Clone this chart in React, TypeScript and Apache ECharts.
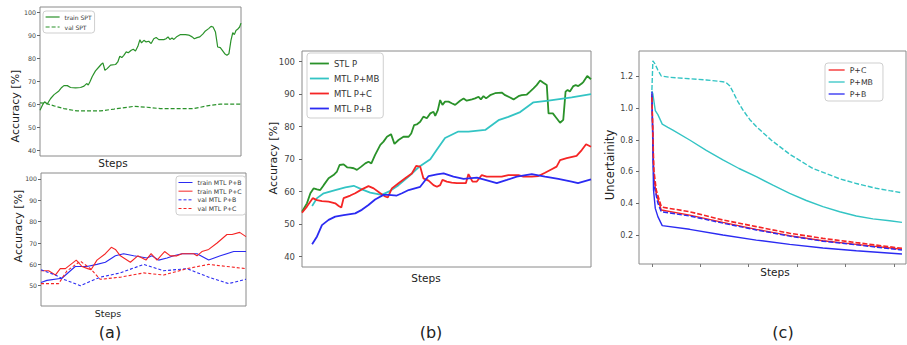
import React, { useEffect, useRef } from "react";
import * as echarts from "echarts";

// ---------- Data (steps, value) ----------
// (a) top: single-task training / validation accuracy
const trainSPT: [number, number][] = [[0,57.3],[1.2,59.5],[2.3,61],[3.6,60],[5.3,62.4],[7,64.1],[9.4,65.7],[10.8,67.2],[11.9,68],[13.6,68],[15.2,67.2],[17.7,67],[20.2,67.2],[21.9,67.8],[23.2,68.9],[24,68.3],[24.8,69.6],[26,72],[27.6,74.4],[29.3,76.1],[30.5,77.3],[31.3,77.9],[32.3,74.7],[33.4,75.4],[35.1,76.9],[37.6,77.2],[38.7,78.3],[39.7,80.8],[40.7,80.2],[41.7,81.2],[42.9,82.7],[43.9,82.3],[45.4,83.4],[46.4,83.8],[47.5,83.1],[48.7,85.1],[49.7,88],[50.5,86.6],[51.7,87.7],[52.8,87],[54.1,87.3],[55.3,86.3],[56.6,88.4],[57.8,88.9],[59.1,88],[61.6,88],[62.7,88.4],[63.7,89.2],[64.6,88.1],[65.7,88.7],[66.6,88.1],[68.2,89.4],[69.9,90.2],[72.4,90.2],[74,90],[75.7,89.2],[76.8,88.4],[78.1,88.9],[79.5,89.2],[81.1,90.5],[82.3,91.8],[83.9,92.8],[85.1,93.8],[86.1,93.5],[87.3,91.3],[88.4,84.8],[89.7,84.5],[90.9,83.1],[91.9,81.9],[93,81.2],[94,81.9],[95,87.7],[95.9,91],[96.7,90.2],[97.5,92],[98.3,92.5],[99.3,93.5],[100,95.2]];
const valSPT: [number, number][] = [[0,60.5],[2.8,60.3],[7,59.2],[11.9,58],[18.5,57],[30.1,57],[36.8,57.8],[46.7,59],[53.3,58.6],[59.9,58],[76.5,58],[83.1,59.2],[89.7,60],[100,60]];

// (a) bottom: multi-task training / validation accuracy
const trainMTLPB: [number, number][] = [[0,51.5],[2.9,52.5],[10.2,53.5],[16.7,59],[22.4,59],[27.3,60],[31.4,61],[36.3,64],[40.3,65],[45.2,64],[51.7,63],[54.1,64],[57.4,62],[61.5,63],[64.7,64],[68.8,65],[76.1,65],[81.8,62],[87.5,64],[94,66],[100,66]];
const trainMTLPC: [number, number][] = [[0,57],[3.7,57],[7,55],[9.4,58],[11.9,58],[17.2,62],[20,59],[22.8,58],[24.4,57.5],[27.3,62],[31.4,65],[34.3,68],[36.3,67],[38.7,64],[43.6,61],[47.2,64],[51.2,62],[53.7,65],[56.6,62],[60.3,66],[63.1,64],[66.3,64],[68.8,65],[74.5,65],[76.1,64],[78.5,66],[81.8,67],[85.9,70],[90.7,74],[93.2,74],[96.9,75],[100,73]];
const valMTLPB: [number, number][] = [[0,57.5],[7,55],[11.1,53],[19.2,50],[28.9,54],[38.7,56],[50.1,60],[59.8,57],[71.2,58],[81.8,54],[91.5,51],[100,53]];
const valMTLPC: [number, number][] = [[0,51],[8.6,51],[12.7,57],[19.2,61.5],[24.1,58],[28.9,53],[38.7,54],[50.1,56],[59.8,55],[71.2,58],[81.8,60],[90.7,59],[100,58]];

// (b) accuracy comparison
const stlP: [number, number][] = [[0,53.8],[1.7,56.4],[2.9,59.5],[4,61],[5.2,60.7],[6.3,60.5],[7.5,62],[9.2,64.1],[10.9,65.1],[12.1,66.2],[13,68.2],[14.4,68.4],[15.6,67.5],[16.7,67.4],[17.9,67.2],[19,66.7],[20.5,67.7],[21.9,68.7],[23,69.2],[24,68.7],[25.3,71.3],[27.1,74.4],[28.2,75.4],[29.4,76.9],[30.8,77.7],[32,74.7],[33.4,75.9],[35.1,76.9],[36.9,76.9],[37.8,77.9],[38.8,80.5],[39.7,80.7],[40.9,81.5],[42,83.1],[43.2,82.6],[44.4,84.1],[45.5,84.6],[46.1,83.3],[47,85.1],[47.8,88.2],[48.6,86.7],[49.5,87.7],[50.7,87.7],[51.8,87.2],[53,86.7],[54.7,88],[55.9,88.7],[57,88],[58.8,88.4],[59.9,88.7],[61.1,89.2],[61.9,88.4],[62.8,89.4],[63.7,88.7],[65.1,89.7],[66.8,90.3],[69.1,90.5],[70.3,89.7],[72,89],[73.2,88.4],[74.9,89.4],[76,89.7],[77.8,89.9],[78.9,90.8],[80.1,91.8],[81.2,92.8],[82.4,94.2],[83.5,93.5],[84.7,92.8],[85.3,84.1],[86.8,84.1],[88.1,82.6],[89.3,81.2],[90.4,82.1],[91.2,90.8],[91.9,91.3],[92.7,90.8],[93.9,92.5],[94.7,92.8],[95.6,92.5],[96.8,93.3],[97.4,93.8],[98.7,95.6],[100,94.6]];
const mtlPMB: [number, number][] = [[3.5,55.6],[5.2,58],[7.5,59.5],[11.5,60.5],[15,61.3],[17.9,61.8],[20.7,60.7],[23.6,59.7],[27.6,59],[30,60],[33.4,62],[37.4,65],[40.3,67.5],[44.4,70],[46.7,73],[49.5,76.5],[54.1,78.5],[57.6,78.5],[63.4,79],[68,82],[71.4,83],[75.5,84.5],[80.1,87.5],[85.3,88],[93.3,89],[100,90]];
const mtlPC: [number, number][] = [[0,53.5],[1.7,55.4],[3.7,58],[5.2,57.4],[6.9,57.1],[9.2,56.9],[11.5,56.4],[12.7,55.6],[13.6,55.1],[14.4,58],[16.7,58.8],[18.4,59.5],[20.7,60.7],[23,61.7],[24.8,61],[27.1,59.5],[28.8,58.5],[29.7,58.2],[31.1,61],[33.4,62.6],[35.7,64.1],[38,65.6],[39.5,67.9],[40.9,67.7],[42,64.1],[43.8,63.4],[45.5,62],[46.7,61.5],[47.8,62],[48.6,63.6],[50.1,63.1],[51.8,62.8],[53.6,62.6],[56.7,62.6],[57.6,65.4],[59,63.1],[60.5,63.1],[62.2,65.1],[63.9,64.6],[69.1,64.6],[71.4,65.1],[74.9,65.1],[76.6,64.6],[79.5,64.6],[81.8,64.8],[84.1,65.8],[86.4,66.9],[88.1,67.7],[89.3,69.7],[91.6,70.3],[95,71],[96.8,72.8],[98.3,74.6],[100,73.8]];
const mtlPB: [number, number][] = [[3.5,43.8],[5.2,46.2],[6.9,49.7],[9.2,51.3],[11.5,52.3],[14.4,52.8],[18.4,53.3],[20.7,54.4],[23,55.9],[25.3,57.6],[28.2,59],[30,59],[32.8,58.8],[34.6,59.5],[36.9,60.5],[40.9,61.5],[43.8,64.8],[46.7,65.3],[49,65.6],[52.4,64.6],[55.9,63.9],[60.5,64.3],[63.4,63.6],[67.4,62.6],[70.9,63.6],[74.3,64.6],[79.5,65.4],[84.1,64.6],[88.7,63.9],[93.3,63.1],[95.5,62.6],[100,63.8]];

// (c) uncertainty (solid = train, dashed = val)
const uncPC: [number, number][] = [[0,1.09],[1.2,0.56],[2.7,0.46],[5.8,0.358],[23.4,0.326],[44,0.28],[64.7,0.236],[85.4,0.196],[106,0.164],[126.7,0.141],[155,0.11]];
const uncPMB: [number, number][] = [[0,1.11],[0.6,1.09],[2.1,0.985],[3.7,0.96],[6.4,0.9],[9.9,0.88],[13,0.863],[23.4,0.8],[33.7,0.735],[44,0.674],[54,0.62],[64.7,0.568],[75,0.515],[85.4,0.463],[95.7,0.418],[106,0.379],[116.4,0.347],[126.7,0.32],[137,0.302],[147.4,0.29],[155,0.28]];
const uncPB: [number, number][] = [[0,1.105],[1,0.484],[2.1,0.368],[3.7,0.316],[6.4,0.259],[23.4,0.236],[44,0.2],[64.7,0.168],[85.4,0.141],[106,0.118],[126.7,0.101],[155,0.08]];
const uncPCval: [number, number][] = [[0,1.07],[1.2,0.61],[2.7,0.484],[5.8,0.379],[6.8,0.375],[23.4,0.347],[44,0.295],[64.7,0.253],[85.4,0.211],[106,0.179],[126.7,0.152],[155,0.116]];
const uncPMBval: [number, number][] = [[0,1.116],[0.6,1.3],[1.7,1.284],[3.7,1.242],[5.8,1.204],[11,1.196],[23.4,1.187],[33.7,1.179],[44,1.168],[46.1,1.162],[48.2,1.143],[50.2,1.105],[53.3,1.042],[56.4,0.99],[60.6,0.93],[64.7,0.885],[73.9,0.8],[85.4,0.71],[99.8,0.62],[116.4,0.555],[126.7,0.525],[139,0.495],[147.4,0.48],[155,0.467]];
const uncPBval: [number, number][] = [[0,1.08],[1.2,0.52],[3.7,0.4],[5.8,0.347],[23.4,0.32],[44,0.275],[64.7,0.232],[85.4,0.193],[106,0.161],[126.7,0.138],[155,0.105]];

// tick values
const accTicksA = [40, 50, 60, 70, 80, 90, 100];
const accTicksA2 = [50, 60, 70, 80, 90, 100];
const accTicksB = [40, 50, 60, 70, 80, 90, 100];
const uncTicks = [0.2, 0.4, 0.6, 0.8, 1.0, 1.2];
const stepTicksC = [0, 30, 60, 90, 120, 150];

const FONT = "DejaVu Sans";
const GREEN = "#2a922a";
const CYAN = "#33c4c4";
const RED = "#f52525";
const BLUE = "#2b2bf2";
const FRAME = "#8a8a8a";

export default function App() {
  const ref = useRef<HTMLDivElement>(null);
  useEffect(() => {
    document.body.style.margin = "0";
    const chart = echarts.init(ref.current!, null, { renderer: "svg" });

    const grids = [
      { left: 40, top: 7, width: 201, height: 149 },
      { left: 41, top: 173, width: 205, height: 133 },
      { left: 302, top: 51, width: 289, height: 216 },
      { left: 639, top: 51, width: 267, height: 213 },
    ].map((g) => ({ ...g, show: true, borderColor: FRAME, borderWidth: 1, backgroundColor: "#fff", outerBoundsMode: "none", containLabel: false }));

    const xAxis = [0, 1, 2].map((i) => ({
      type: "value", gridIndex: i, min: 0, max: 100,
      axisLine: { show: false, onZero: false }, axisTick: { show: false }, axisLabel: { show: false }, splitLine: { show: false },
    })) as any[];
    xAxis.push({
      type: "value", gridIndex: 3, min: -8, max: 157.5,
      axisLine: { show: false, onZero: false },
      axisTick: { show: true, length: 3, customValues: stepTicksC, lineStyle: { color: "#777" } },
      axisLabel: { show: false }, splitLine: { show: false },
    });

    const yAx = (gi: number, min: number, max: number, ticks: number[], fs: number, margin: number, fmt?: (v: number) => string) => ({
      type: "value", gridIndex: gi, min, max,
      axisLine: { show: false, onZero: false },
      axisTick: { show: true, length: 3, customValues: ticks, lineStyle: { color: "#666" } },
      axisLabel: { customValues: ticks, fontSize: fs, fontFamily: FONT, color: "#444", margin, formatter: fmt },
      splitLine: { show: false },
    });
    const yAxis = [
      yAx(0, 37.4, 102.2, accTicksA, 6.3, 4),
      yAx(1, 40.5, 102.8, accTicksA2, 6.2, 4),
      yAx(2, 36.8, 103.3, accTicksB, 8.5, 7),
      yAx(3, 0.017, 1.362, uncTicks, 8, 6, (v: number) => v.toFixed(1)),
    ];

    const line = (name: string, gi: number, data: [number, number][], color: string, width: number, dashed = false, dash: number[] = [4, 2]) => ({
      name, type: "line", xAxisIndex: gi, yAxisIndex: gi, data, symbol: "none", showSymbol: false,
      color, lineStyle: { color, width, type: dashed ? dash : "solid" },
      emphasis: { disabled: true }, silent: true,
    });

    const series = [
      line("train SPT", 0, trainSPT, GREEN, 1.2),
      line("val SPT", 0, valSPT, GREEN, 1.2, true, [4, 2]),
      line("train MTL P+B", 1, trainMTLPB, BLUE, 1.1),
      line("train MTL P+C", 1, trainMTLPC, RED, 1.1),
      line("val MTL P+B", 1, valMTLPB, BLUE, 1.1, true, [3, 2]),
      line("val MTL P+C", 1, valMTLPC, RED, 1.1, true, [3, 2]),
      line("STL P", 2, stlP, GREEN, 1.8),
      line("MTL P+MB", 2, mtlPMB, CYAN, 1.8),
      line("MTL P+C", 2, mtlPC, RED, 1.8),
      line("MTL P+B", 2, mtlPB, BLUE, 1.8),
      line("P+MB val", 3, uncPMBval, CYAN, 1.4, true, [5, 2]),
      line("P+MB", 3, uncPMB, CYAN, 1.4),
      line("P+C", 3, uncPC, RED, 1.4),
      line("P+B val", 3, uncPBval, BLUE, 1.4, true, [5, 2]),
      line("P+B", 3, uncPB, BLUE, 1.4),
      line("P+C val", 3, uncPCval, RED, 1.6, true, [5, 2]),
    ];

    const leg = (data: string[], left: number, top: number, fs: number, iw: number, ih: number, gap: number, padding: number[], lw: number) => ({
      orient: "vertical", left, top, data, itemWidth: iw, itemHeight: ih, itemGap: gap, padding,
      textStyle: { fontSize: fs, fontFamily: FONT, color: "#333", lineHeight: ih },
      itemStyle: { color: "rgba(0,0,0,0)", borderColor: "rgba(0,0,0,0)", borderWidth: 0, opacity: 0 },
      lineStyle: { width: lw },
      backgroundColor: "#fff", borderColor: "#cfcfcf", borderWidth: 1, borderRadius: 3,
      selectedMode: false,
    });
    const legend = [
      leg(["train SPT", "val SPT"], 43, 11, 6, 14, 6, 4, [3, 3, 3, 2], 1.2),
      leg(["train MTL P+B", "train MTL P+C", "val MTL P+B", "val MTL P+C"], 176, 176, 6.2, 14, 6, 2.67, [3.5, 4, 3.5, 2], 1),
      leg(["STL P", "MTL P+MB", "MTL P+C", "MTL P+B"], 307, 53, 8.5, 19, 9, 6, [6, 4, 5, 2], 1.8),
      leg(["P+C", "P+MB", "P+B"], 825, 63, 7.8, 16, 7, 4, [3, 10, 3, 3], 1.3),
    ];

    const txt = (text: string, x: number, y: number, fs: number, rot = 0) => ({
      type: "text", x, y, rotation: rot, silent: true,
      style: { text, fontSize: fs, fontFamily: FONT, fill: "#222", align: "center", verticalAlign: "middle" },
    });
    const graphic = [
      txt("Steps", 113, 163, 10.5),
      txt("Steps", 108, 313, 9.5),
      txt("Steps", 426, 278, 10.5),
      txt("Steps", 775, 272, 10.5),
      txt("Accuracy [%]", 15, 106, 11, Math.PI / 2),
      txt("Accuracy [%]", 18, 226, 11, Math.PI / 2),
      txt("Accuracy [%]", 273, 158, 11, Math.PI / 2),
      txt("Uncertainity", 610, 165, 11.5, Math.PI / 2),
      txt("(a)", 110, 332, 16),
      txt("(b)", 431, 332, 16),
      txt("(c)", 783, 332, 16),
    ];

    chart.setOption({
      animation: false,
      backgroundColor: "#fff",
      grid: grids,
      xAxis,
      yAxis,
      legend,
      series,
      graphic,
    } as any);
    return () => chart.dispose();
  }, []);
  return <div ref={ref} style={{ width: 907, height: 345, overflow: "hidden" }} />;
}
